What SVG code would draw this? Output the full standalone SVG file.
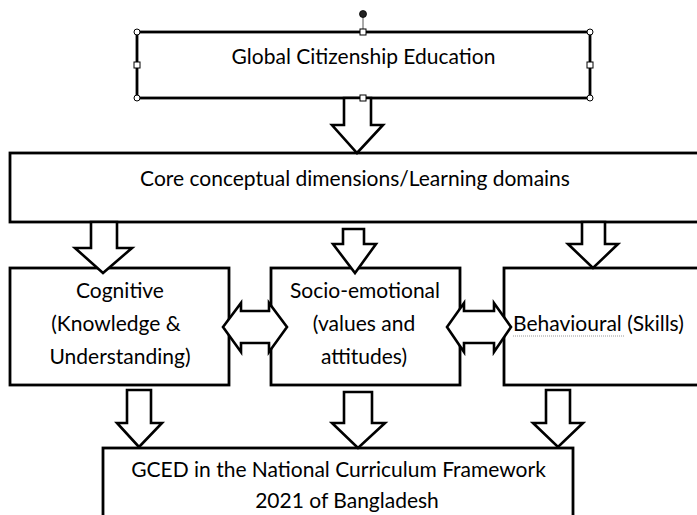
<svg xmlns="http://www.w3.org/2000/svg" width="697" height="515" viewBox="0 0 697 515">
<style>
.box{fill:#fff;stroke:#000;stroke-width:2.8}
.arr{fill:#fff;stroke:#000;stroke-width:2.6;stroke-linejoin:miter}
.t{font-family:Lato,"Open Sans","Liberation Sans",sans-serif;font-size:21px;fill:#000;text-anchor:middle}
.h{fill:#fff;stroke:#000;stroke-width:1}
</style>
<rect width="697" height="515" fill="#fff"/>
<g id="gce">
<rect class="box" x="137" y="32" width="453" height="66"/>
<text class="t" x="363.5" y="64">Global Citizenship Education</text>
<line x1="363" y1="32" x2="363" y2="17" stroke="#555" stroke-width="1"/>
<circle cx="363" cy="14" r="3.5" fill="#222" stroke="#000" stroke-width="0.8"/>
<circle class="h" cx="137" cy="32" r="3"/>
<circle class="h" cx="590" cy="32" r="3"/>
<circle class="h" cx="137" cy="98" r="3"/>
<circle class="h" cx="590" cy="98" r="3"/>
<rect class="h" x="360" y="29" width="6" height="6"/>
<rect class="h" x="134" y="62" width="6" height="6"/>
<rect class="h" x="587" y="62" width="6" height="6"/>
</g>
<g id="core">
<rect class="box" x="10" y="153" width="692" height="69"/>
<text class="t" x="355" y="186">Core conceptual dimensions/Learning domains</text>
</g>
<g id="cognitive">
<rect class="box" x="10" y="268" width="219" height="117"/>
<text class="t" x="120" y="298">Cognitive</text>
<text class="t" x="116" y="331">(Knowledge &amp;</text>
<text class="t" x="120" y="364">Understanding)</text>
</g>
<g id="socio">
<rect class="box" x="271" y="268" width="189" height="117"/>
<text class="t" x="365" y="298">Socio-emotional</text>
<text class="t" x="364" y="331">(values and</text>
<text class="t" x="364" y="364">attitudes)</text>
</g>
<g id="behavioural">
<rect class="box" x="504" y="268" width="198" height="117"/>
<text class="t" x="513" y="331" style="text-anchor:start">Behavioural (Skills)</text>
<line x1="513" y1="336" x2="624" y2="336" stroke="#999" stroke-width="1" stroke-dasharray="1,1"/>
</g>
<g id="gced">
<rect class="box" x="103" y="448" width="470" height="80"/>
<text class="t" x="338.5" y="477">GCED in the National Curriculum Framework</text>
<text class="t" x="347" y="508">2021 of Bangladesh</text>
</g>
<g id="connectors">
<polygon class="arr" points="344,98 371,98 371,125 383,125 357,153 332,125 344,125"/>
<polygon class="arr" points="91,222 117,222 117,248 132,248 103,273 75,248 91,248"/>
<polygon class="arr" points="343,229 364,229 364,244 376,244 355,273 333,244 343,244"/>
<polygon class="arr" points="582,222 605,222 605,244 618,244 593,268 568,244 582,244"/>
<polygon class="arr" points="127,390 151,390 151,423 162,423 139,447 117,423 127,423"/>
<polygon class="arr" points="344,392 372,392 372,423 385,423 358,448 332,423 344,423"/>
<polygon class="arr" points="546,390 570,390 570,423 583,423 558,447 533,423 546,423"/>
<polygon class="arr" points="223,327 241,303 241,311 269,311 269,303 287,327 269,352 269,343 241,343 241,352"/>
<polygon class="arr" points="447,327 464,303 464,311 494,311 494,303 511,327 494,352 494,343 464,343 464,352"/>
<rect class="h" x="360" y="95" width="6" height="6"/>
</g>
</svg>
